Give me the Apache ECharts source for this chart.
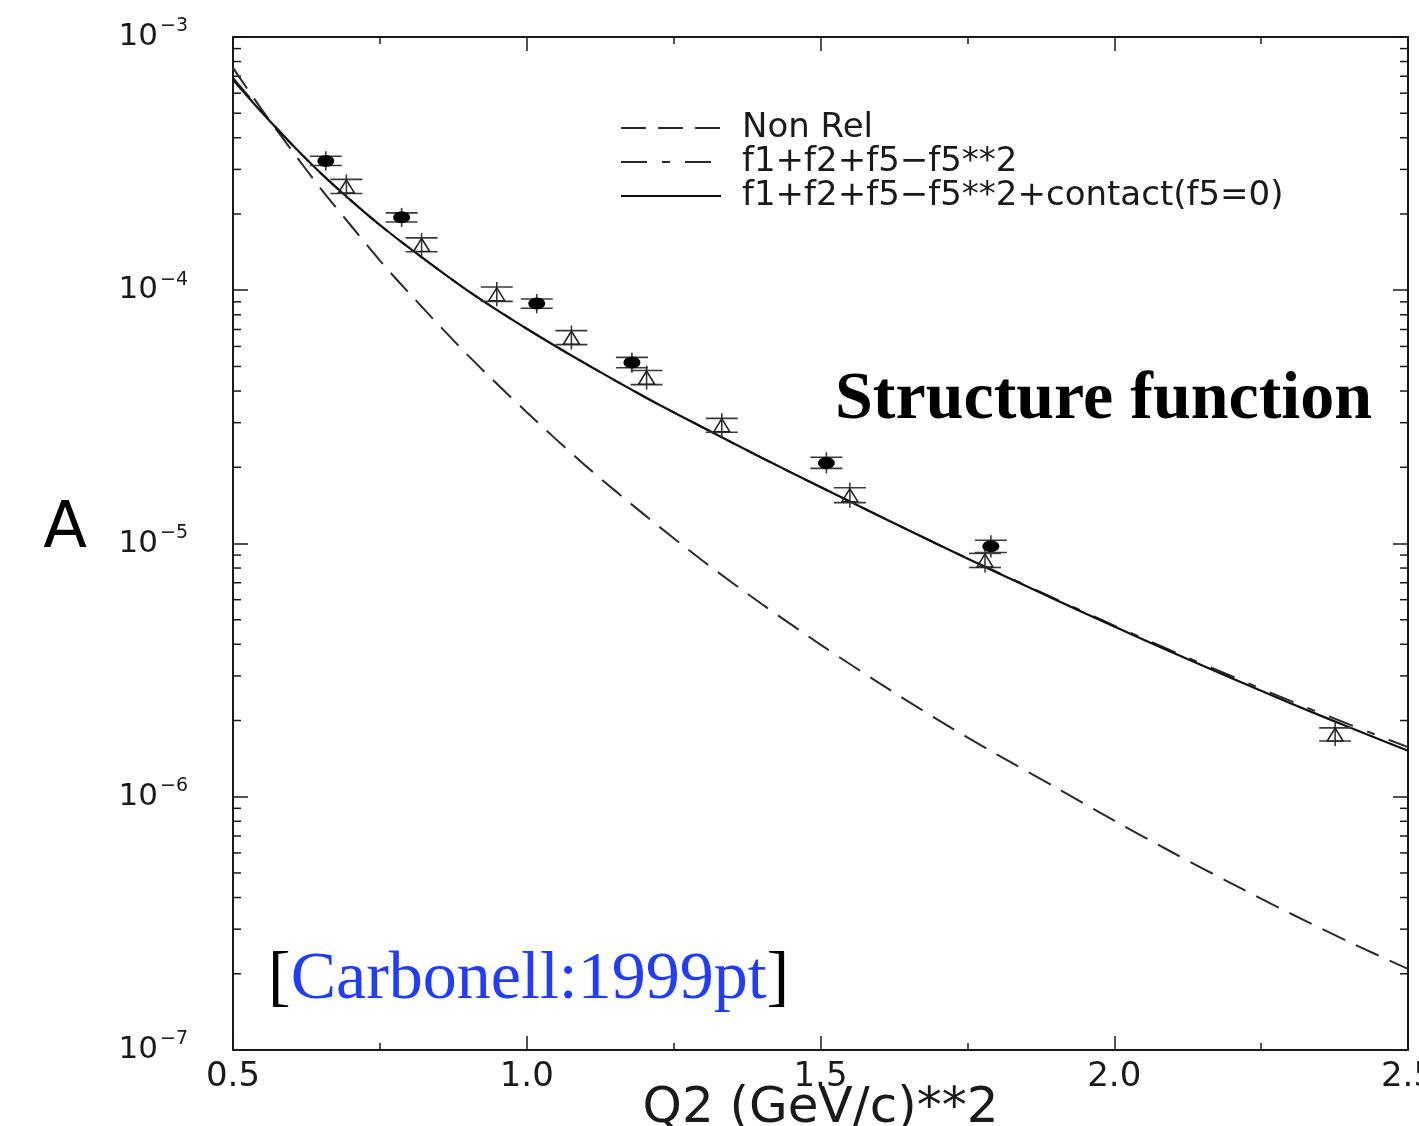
<!DOCTYPE html>
<html>
<head>
<meta charset="utf-8">
<script src="https://cdn.jsdelivr.net/npm/echarts@6/dist/echarts.min.js"></script>
<style>html,body{margin:0;padding:0;background:#fff;overflow:hidden;}#c{width:1419px;height:1126px;}</style>
</head>
<body>
<div id="c"></div>
<script>
// ---- data ----
const qGrid = [0.5,0.55,0.6,0.65,0.7,0.75,0.8,0.9,1.0,1.1,1.2,1.3,1.4,1.5,1.6,1.7,1.8,1.9,2.0,2.1,2.2,2.3,2.4,2.5];
const nonRel = [7.55e-4,5.13e-4,3.57e-4,2.51e-4,1.81e-4,1.31e-4,9.73e-5,5.53e-5,3.30e-5,2.03e-5,1.30e-5,8.53e-6,5.77e-6,3.99e-6,2.81e-6,2.01e-6,1.47e-6,1.09e-6,8.05e-7,6.01e-7,4.54e-7,3.46e-7,2.67e-7,2.09e-7];
const relF5 = [6.90e-4,5.05e-4,3.77e-4,2.89e-4,2.27e-4,1.81e-4,1.47e-4,9.95e-5,7.05e-5,5.13e-5,3.80e-5,2.87e-5,2.18e-5,1.67e-5,1.285e-5,9.91e-6,7.72e-6,6.04e-6,4.74e-6,3.75e-6,2.99e-6,2.39e-6,1.93e-6,1.57e-6];
const relContact = [6.78e-4,5.01e-4,3.77e-4,2.89e-4,2.27e-4,1.81e-4,1.47e-4,9.95e-5,7.05e-5,5.13e-5,3.80e-5,2.87e-5,2.18e-5,1.67e-5,1.285e-5,9.91e-6,7.69e-6,6.00e-6,4.70e-6,3.70e-6,2.94e-6,2.34e-6,1.88e-6,1.52e-6];

const circQ   = [0.658,0.787,1.017,1.179,1.510,1.790];
const circA   = [3.24e-4,1.94e-4,8.86e-5,5.18e-5,2.08e-5,9.76e-6];
const circLo  = [3.11e-4,1.86e-4,8.49e-5,4.94e-5,1.98e-5,9.21e-6];
const circHi  = [3.38e-4,2.02e-4,9.23e-5,5.43e-5,2.19e-5,1.03e-5];

const triQ  = [0.693,0.821,0.949,1.076,1.204,1.332,1.550,1.780,2.376];
const triA  = [2.57e-4,1.51e-4,9.64e-5,6.50e-5,4.52e-5,2.93e-5,1.55e-5,8.57e-6,1.76e-6];
const triLo = [2.41e-4,1.42e-4,9.04e-5,6.10e-5,4.24e-5,2.75e-5,1.45e-5,8.04e-6,1.66e-6];
const triHi = [2.74e-4,1.61e-4,1.03e-4,6.93e-5,4.82e-5,3.12e-5,1.66e-5,9.14e-6,1.87e-6];

const xTicks = [0.5,1.0,1.5,2.0,2.5];
const yDecades = [1e-7,1e-6,1e-5,1e-4];
const yMinorMult = [2,3,4,5,6,7,8,9];

const seriesNames = ['Non Rel','f1+f2+f5\u2212f5**2','f1+f2+f5\u2212f5**2+contact(f5=0)'];
const xName = 'Q2 (GeV/c)**2';
const yName = 'A';
const noteTitle = 'Structure function';
const noteRef = 'Carbonell:1999pt';

// ---- build ----
const pairs = (xs, ys) => xs.map((x, i) => [x, ys[i]]);
const minorTickVals = [];
yDecades.forEach(d => yMinorMult.forEach(m => minorTickVals.push([xTicks[0], m * d])));

const SANS = '"DejaVu Sans", sans-serif';
const INK = '#1a1a1a';

function errRender(params, api) {
  const x = api.value(0), lo = api.value(2), hi = api.value(3);
  const pLo = api.coord([x, lo]), pHi = api.coord([x, hi]);
  const half = 16, ext = 5;
  const style = { stroke: '#3a3a3a', lineWidth: 1.6 };
  return { type: 'group', children: [
    { type: 'line', shape: { x1: pLo[0], y1: pLo[1] + ext, x2: pHi[0], y2: pHi[1] - ext }, style },
    { type: 'line', shape: { x1: pLo[0] - half, y1: pLo[1], x2: pLo[0] + half, y2: pLo[1] }, style },
    { type: 'line', shape: { x1: pHi[0] - half, y1: pHi[1], x2: pHi[0] + half, y2: pHi[1] }, style }
  ]};
}
function minorRender(params, api) {
  const y = api.coord([api.value(0), api.value(1)])[1];
  const cs = params.coordSys;
  const style = { stroke: INK, lineWidth: 1.5 };
  return { type: 'group', children: [
    { type: 'line', shape: { x1: cs.x, y1: y, x2: cs.x + 8, y2: y }, style },
    { type: 'line', shape: { x1: cs.x + cs.width - 8, y1: y, x2: cs.x + cs.width, y2: y }, style }
  ]};
}

const axisLine = { show: true, lineStyle: { color: INK, width: 2 } };
const xCommon = {
  type: 'value', min: 0.5, max: 2.5, interval: 0.5,
  axisLine, splitLine: { show: false },
  axisTick: { show: true, inside: true, length: 14, lineStyle: { color: INK, width: 1.5 } },
  minorTick: { show: true, splitNumber: 2, length: 7, lineStyle: { color: INK, width: 1.5 } },
  minorSplitLine: { show: false }
};
const yCommon = {
  type: 'log', logBase: 10, min: 1e-7, max: 1e-3,
  axisLine, splitLine: { show: false },
  axisTick: { show: true, inside: true, length: 15, lineStyle: { color: INK, width: 1.5 } }
};

const chart = echarts.init(document.getElementById('c'), null, { renderer: 'canvas', width: 1419, height: 1126 });
chart.setOption({
  animation: false,
  backgroundColor: '#fff',
  grid: { left: 233, right: 11, top: 37, bottom: 76, containLabel: false, outerBoundsMode: 'none' },
  legend: {
    data: seriesNames,
    orient: 'vertical', left: 620, top: 111, padding: 0,
    itemWidth: 100, itemHeight: 20, itemGap: 0,
    itemStyle: { color: 'rgba(0,0,0,0)', borderWidth: 0, opacity: 0 },
    textStyle: { fontFamily: SANS, fontSize: 34, color: INK, lineHeight: 33.5, padding: [0, 0, 0, 16] },
    selectedMode: false
  },
  xAxis: [
    Object.assign({}, xCommon, {
      position: 'bottom',
      axisLabel: { show: true, margin: 10, fontFamily: SANS, fontSize: 34, color: INK,
        formatter: v => v.toFixed(1) },
      name: xName, nameLocation: 'middle', nameGap: 34, nameMoveOverlap: false,
      nameTextStyle: { fontFamily: SANS, fontSize: 50, color: INK, verticalAlign: 'top' }
    }),
    Object.assign({}, xCommon, { position: 'top', axisLabel: { show: false } })
  ],
  yAxis: [
    Object.assign({}, yCommon, {
      position: 'left',
      axisLabel: { show: true, margin: 45,
        formatter: v => '{b|10}{s|\u2212' + Math.abs(Math.round(Math.log10(v))) + '}',
        rich: {
          b: { fontFamily: SANS, fontSize: 31, color: INK, lineHeight: 40 },
          s: { fontFamily: SANS, fontSize: 19, color: INK, verticalAlign: 'top', padding: [0, 0, 0, 2] }
        }
      },
      name: yName, nameLocation: 'middle', nameRotate: 0, nameGap: 146, nameMoveOverlap: false,
      nameTextStyle: { fontFamily: SANS, fontSize: 64, color: '#000', lineHeight: 26, verticalAlign: 'bottom' }
    }),
    Object.assign({}, yCommon, { position: 'right', axisLabel: { show: false } })
  ],
  series: [
    { type: 'custom', name: 'yminor', xAxisIndex: 0, yAxisIndex: 0, silent: true, clip: false,
      renderItem: minorRender, data: minorTickVals, encode: { x: 0, y: 1 }, z: 3 },
    { type: 'line', name: seriesNames[0], data: pairs(qGrid, nonRel), showSymbol: false, symbol: 'none',
      smooth: 0.3, lineStyle: { color: '#2a2a2a', width: 2, type: [25, 12] }, itemStyle: { color: '#2a2a2a' }, z: 4 },
    { type: 'line', name: seriesNames[1], data: pairs(qGrid, relF5), showSymbol: false, symbol: 'none',
      smooth: 0.3, lineStyle: { color: '#2a2a2a', width: 2, type: [26, 15, 8, 15] }, itemStyle: { color: '#2a2a2a' }, z: 4 },
    { type: 'line', name: seriesNames[2], data: pairs(qGrid, relContact), showSymbol: false, symbol: 'none',
      smooth: 0.3, lineStyle: { color: '#111', width: 2.2, type: 'solid' }, itemStyle: { color: '#111' }, z: 5 },
    { type: 'custom', name: 'errC', renderItem: errRender, silent: true,
      data: circQ.map((q, i) => [q, circA[i], circLo[i], circHi[i]]), encode: { x: 0, y: [1, 2, 3] }, z: 6 },
    { type: 'custom', name: 'errT', renderItem: errRender, silent: true,
      data: triQ.map((q, i) => [q, triA[i], triLo[i], triHi[i]]), encode: { x: 0, y: [1, 2, 3] }, z: 6 },
    { type: 'scatter', name: 'data1', data: pairs(circQ, circA), symbol: 'circle', symbolSize: [17, 12],
      itemStyle: { color: '#000', opacity: 1 }, silent: true, z: 7 },
    { type: 'scatter', name: 'data2', data: pairs(triQ, triA), symbol: 'triangle', symbolSize: [16, 13],
      itemStyle: { color: 'rgba(255,255,255,0)', borderColor: '#222', borderWidth: 1.5, opacity: 1 }, silent: true, z: 7 }
  ],
  graphic: [
    { type: 'text', left: 835, top: 366, z: 20, silent: true,
      style: { text: noteTitle, fontFamily: '"Liberation Serif", serif', fontWeight: 'bold', fontSize: 68, fill: '#000' } },
    { type: 'text', left: 268, top: 946, z: 20, silent: true,
      style: { text: '{k|[}{b|' + noteRef + '}{k|]}',
        rich: {
          k: { fontFamily: '"Liberation Serif", serif', fontSize: 68, fill: '#000' },
          b: { fontFamily: '"Liberation Serif", serif', fontSize: 68, fill: '#1f3cff' }
        } } }
  ]
});
</script>
</body>
</html>
